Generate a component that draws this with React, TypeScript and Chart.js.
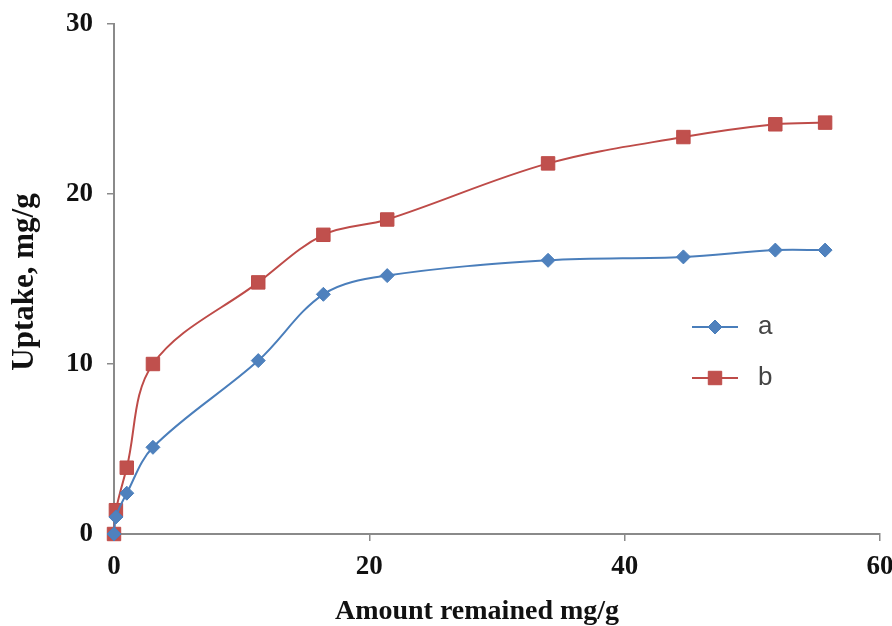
import React, { useEffect, useRef } from "react";
import { Chart, registerables } from "chart.js";

Chart.register(...registerables);

const amountRemained = [0, 0.15, 1.0, 3.05, 11.3, 16.4, 21.4, 34.0, 44.6, 51.8, 55.7];
const uptakeA = [0, 1.0, 2.4, 5.1, 10.2, 14.1, 15.2, 16.1, 16.3, 16.7, 16.7];
const uptakeB = [0, 1.4, 3.9, 10.0, 14.8, 17.6, 18.5, 21.8, 23.35, 24.1, 24.2];
const seriesLabels = ["a", "b"];
const xTicks = [0, 20, 40, 60];
const yTicks = [0, 10, 20, 30];
const xTitle = "Amount remained mg/g";
const yTitle = "Uptake, mg/g";

const AXIS_COLOR = "#8a8a8a";
const SERIF = '"Liberation Serif", "Times New Roman", serif';

const axisTitlesPlugin = {
  id: "axisTitles",
  afterDraw(chart: any) {
    const { ctx, chartArea } = chart;
    ctx.save();
    ctx.fillStyle = "#111";
    ctx.font = `bold 28px ${SERIF}`;
    ctx.textAlign = "center";
    ctx.textBaseline = "alphabetic";
    ctx.fillText(xTitle, (chartArea.left + chartArea.right) / 2 - 20, 619);
    ctx.font = `bold 31px ${SERIF}`;
    ctx.translate(33, (chartArea.top + chartArea.bottom) / 2 + 3);
    ctx.rotate(-Math.PI / 2);
    ctx.fillText(yTitle, 0, 0);
    ctx.restore();
  },
};

const lineLegendPlugin = {
  id: "lineLegend",
  afterDraw(chart: any) {
    const { ctx } = chart;
    const startX = 692;
    const lineLen = 46;
    const startY = 327;
    const rowGap = 51;
    ctx.save();
    chart.data.datasets.forEach((ds: any, i: number) => {
      const y = startY + i * rowGap;
      ctx.strokeStyle = ds.borderColor;
      ctx.lineWidth = 2;
      ctx.beginPath();
      ctx.moveTo(startX, y);
      ctx.lineTo(startX + lineLen, y);
      ctx.stroke();
      ctx.fillStyle = ds.pointBackgroundColor;
      ctx.strokeStyle = ds.pointBorderColor;
      ctx.lineWidth = 1;
      const cx = startX + lineLen / 2;
      const r = ds.pointRadius;
      ctx.beginPath();
      if (ds.pointStyle === "rect") {
        const s = Math.SQRT1_2 * r;
        ctx.rect(cx - s, y - s, 2 * s, 2 * s);
      } else {
        ctx.moveTo(cx - r, y);
        ctx.lineTo(cx, y - r);
        ctx.lineTo(cx + r, y);
        ctx.lineTo(cx, y + r);
        ctx.closePath();
      }
      ctx.fill();
      ctx.stroke();
      ctx.fillStyle = "#444";
      ctx.font = '26px "Liberation Sans", Arial, sans-serif';
      ctx.textAlign = "left";
      ctx.textBaseline = "middle";
      ctx.fillText(ds.label, startX + lineLen + 20, y);
    });
    ctx.restore();
  },
};

export default function App() {
  const canvasRef = useRef<HTMLCanvasElement | null>(null);

  useEffect(() => {
    if (!canvasRef.current) return;
    const toPoints = (ys: number[]) => amountRemained.map((x, i) => ({ x, y: ys[i] }));
    const chart = new Chart(canvasRef.current, {
      type: "line",
      data: {
        datasets: [
          {
            label: seriesLabels[0],
            data: toPoints(uptakeA),
            borderColor: "#4a7ebb",
            backgroundColor: "#4f81bd",
            pointBackgroundColor: "#4f81bd",
            pointBorderColor: "#4a7ebb",
            pointBorderWidth: 1,
            pointStyle: "rectRot",
            pointRadius: 7,
            borderWidth: 2,
            tension: 0.35,
            clip: false as any,
          },
          {
            label: seriesLabels[1],
            data: toPoints(uptakeB),
            borderColor: "#be4b48",
            backgroundColor: "#c0504d",
            pointBackgroundColor: "#c0504d",
            pointBorderColor: "#be4b48",
            pointBorderWidth: 1,
            pointStyle: "rect",
            pointRadius: 9.5,
            borderWidth: 2,
            tension: 0.35,
            clip: false as any,
          },
        ],
      },
      options: {
        responsive: false,
        animation: false,
        layout: { padding: { left: 0, top: 24, right: 12, bottom: 0 } },
        plugins: {
          legend: { display: false },
          tooltip: { enabled: false },
        },
        scales: {
          x: {
            type: "linear",
            min: xTicks[0],
            max: xTicks[xTicks.length - 1],
            afterBuildTicks: (scale: any) => {
              scale.ticks = xTicks.map((v) => ({ value: v }));
            },
            afterFit: (scale: any) => {
              scale.height = 92;
              scale.paddingRight = 0;
              scale.paddingLeft = 0;
            },
            border: { display: true, color: AXIS_COLOR, width: 2 },
            grid: {
              display: true,
              drawOnChartArea: false,
              drawTicks: true,
              tickLength: 7,
              color: AXIS_COLOR,
              lineWidth: 1.5,
            },
            ticks: {
              color: "#111",
              padding: 10,
              maxRotation: 0,
              font: { family: SERIF, size: 27, weight: "bold" },
            },
          },
          y: {
            type: "linear",
            min: yTicks[0],
            max: yTicks[yTicks.length - 1],
            afterBuildTicks: (scale: any) => {
              scale.ticks = yTicks.map((v) => ({ value: v }));
            },
            afterFit: (scale: any) => {
              scale.width = 114;
              scale.paddingTop = 0;
              scale.paddingBottom = 0;
            },
            border: { display: true, color: AXIS_COLOR, width: 2 },
            grid: {
              display: true,
              drawOnChartArea: false,
              drawTicks: true,
              tickLength: 7,
              color: AXIS_COLOR,
              lineWidth: 1.5,
            },
            ticks: {
              color: "#111",
              padding: 14,
              font: { family: SERIF, size: 27, weight: "bold" },
            },
          },
        },
      },
      plugins: [axisTitlesPlugin, lineLegendPlugin],
    });
    return () => chart.destroy();
  }, []);

  return (
    <div style={{ position: "fixed", left: 0, top: 0, width: 892, height: 626, background: "#fff" }}>
      <canvas ref={canvasRef} width={892} height={626} />
    </div>
  );
}
